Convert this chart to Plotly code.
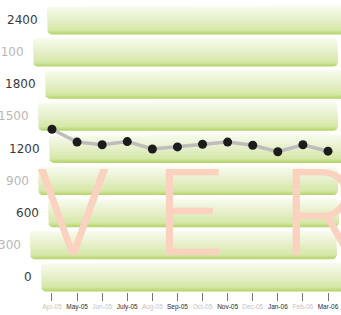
import math
import plotly.graph_objects as go

# ---- data ----
months = ['Apr-05', 'May-05', 'Jun-05', 'July-05', 'Aug-05', 'Sep-05',
          'Oct-05', 'Nov-05', 'Dec-05', 'Jan-06', 'Feb-06', 'Mar-06']
values = [1380, 1260, 1235, 1265, 1195, 1215, 1240, 1260, 1230, 1170, 1235, 1175]
y_ticks = [0, 300, 600, 900, 1200, 1500, 1800, 2100, 2400]
y_tick_labels = ['0', '300', '600', '900', '1200', '1500', '1800', '2100', '2400']

# ---- style / layout helpers (positions in axis units) ----
band_left = [-0.44, -0.88, -0.16, -0.56, -0.12, -0.56, -0.28, -0.76, -0.20]
band_right = [11.8, 11.36, 11.44, 11.40, 11.8, 11.40, 11.8, 11.40, 11.8]
band_half = 135
rx, ry = 0.2, 47

dark_col = '#3a3a3a'
light_col = '#b8b8b8'

x_idx = list(range(len(months)))


def rounded_band(x0, x1, yc, hh, rx, ry, n=6):
    y0, y1 = yc - hh, yc + hh
    xs, ys = [], []
    corners = [(x1 - rx, y0 + ry, -90, 0), (x1 - rx, y1 - ry, 0, 90),
               (x0 + rx, y1 - ry, 90, 180), (x0 + rx, y0 + ry, 180, 270)]
    for cx, cy, a0, a1 in corners:
        for i in range(n + 1):
            a = math.radians(a0 + (a1 - a0) * i / n)
            xs.append(cx + rx * math.cos(a))
            ys.append(cy + ry * math.sin(a))
    xs.append(xs[0])
    ys.append(ys[0])
    return xs, ys, y0, y1


fig = go.Figure()

band_scale = [[0.0, '#b3d368'], [0.08, '#c3de86'], [0.15, '#d5e8a6'],
              [0.45, '#e3eec4'], [0.85, '#f3f8e4'], [1.0, '#fafcf3']]

for i, t in enumerate(y_ticks):
    xs, ys, y0, y1 = rounded_band(band_left[i], band_right[i], t, band_half, rx, ry)
    fig.add_trace(go.Scatter(
        x=xs, y=ys, mode='lines', fill='toself', line=dict(width=0),
        fillgradient=dict(type='vertical', colorscale=band_scale, start=y0, stop=y1),
        hoverinfo='skip', showlegend=False))

fig.add_trace(go.Scatter(
    x=x_idx, y=values, mode='lines+markers',
    line=dict(color='#bdbdbd', width=3.5),
    marker=dict(color='#1c1c1c', size=9),
    showlegend=False, hoverinfo='skip'))

annotations = []
for i, (t, lab) in enumerate(zip(y_ticks, y_tick_labels)):
    annotations.append(dict(
        x=band_left[i], y=t, xref='x', yref='y', text=lab, showarrow=False,
        xanchor='right', yanchor='middle', xshift=-7,
        font=dict(family='DejaVu Sans', size=12,
                  color=dark_col if i % 2 == 0 else light_col)))

wm_font = dict(family='Roboto', size=120, weight=300, color='#fbd2c0')
for letter, xp, anchor in [('V', 0.214, 'center'), ('E', 0.553, 'center'), ('R', 0.822, 'left')]:
    annotations.append(dict(x=xp, y=0.266, xref='paper', yref='paper', text=letter,
                            showarrow=False, xanchor=anchor, yanchor='middle', font=wm_font))

tick_text = []
for i, m in enumerate(months):
    c = '#c4c4c4' if i % 2 == 0 else '#2a2a2a'
    tick_text.append(f'<span style="color:{c}">{m}</span>')

fig.update_layout(
    width=341, height=315, autosize=False,
    margin=dict(l=0, r=0, t=0, b=23),
    paper_bgcolor='white', plot_bgcolor='white',
    annotations=annotations,
    hovermode=False,
    xaxis=dict(range=[-2.072, 11.518], tickvals=x_idx, ticktext=tick_text,
               ticks='outside', ticklen=8, tickcolor='#777777', tickwidth=1,
               tickfont=dict(family='Liberation Sans', size=6.5, color='#2a2a2a'),
               showgrid=False, zeroline=False, showline=False),
    yaxis=dict(range=[-140, 2587], showticklabels=False, showgrid=False,
               zeroline=False, showline=False, ticks=''),
)

fig.write_html('out.html', config={'displayModeBar': False},
               post_script="document.body.style.margin='0';")
